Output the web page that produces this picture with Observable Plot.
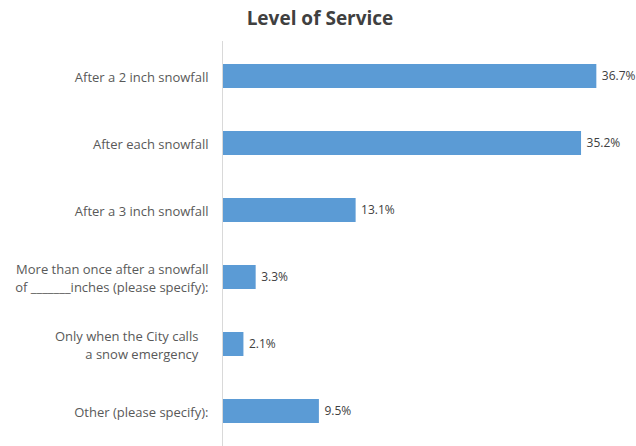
<!DOCTYPE html>
<html>
<head>
<meta charset="utf-8">
<script src="https://cdn.jsdelivr.net/npm/d3@7"></script>
<script src="https://cdn.jsdelivr.net/npm/@observablehq/plot@0.6"></script>
<style>
  body { margin: 0; background: #fff; font-family: "Open Sans", sans-serif; }
  #title { height: 41px; width: 636px; text-align: center; font-weight: bold; font-size: 19px; color: #404040; line-height: 36px; padding-left: 4px; box-sizing: border-box; }
</style>
</head>
<body>
<div id="title">Level of Service</div>
<div id="chart"></div>
<script>
const categories = [
  "After a 2 inch snowfall",
  "After each snowfall",
  "After a 3 inch snowfall",
  "More than once after a snowfall\nof _______inches (please specify):",
  "Only when the City calls\u00a0\u00a0\u00a0\na snow emergency\u00a0\u00a0\u00a0",
  "Other (please specify):"
];
const values = [36.7, 35.2, 13.1, 3.3, 2.1, 9.5];
const data = categories.map((c, i) => ({ label: c, value: values[i] }));

const chart = Plot.plot({
  width: 636,
  height: 405,
  marginTop: 0,
  marginBottom: 0,
  marginLeft: 222,
  marginRight: 6,
  style: { fontFamily: "'Open Sans', sans-serif", background: "#fff" },
  x: { domain: [0, 40], axis: null },
  y: { domain: categories, axis: null, paddingInner: 0.64, paddingOuter: 0.32 },
  marks: [
    Plot.barX(data, { x: "value", y: "label", fill: "#5b9bd5" }),
    Plot.ruleX([0], { stroke: "#d9d9d9", strokeWidth: 1 }),
    Plot.text(data, { x: 0, y: "label", text: "label", textAnchor: "end", dx: -14, lineHeight: 1.38, fontSize: 13, fill: "#595959" }),
    Plot.text(data, { x: "value", y: "label", text: d => d.value.toFixed(1) + "%", textAnchor: "start", dx: 5, fontSize: 12, fill: "#404040" })
  ]
});
document.getElementById("chart").appendChild(chart);
</script>
</body>
</html>
